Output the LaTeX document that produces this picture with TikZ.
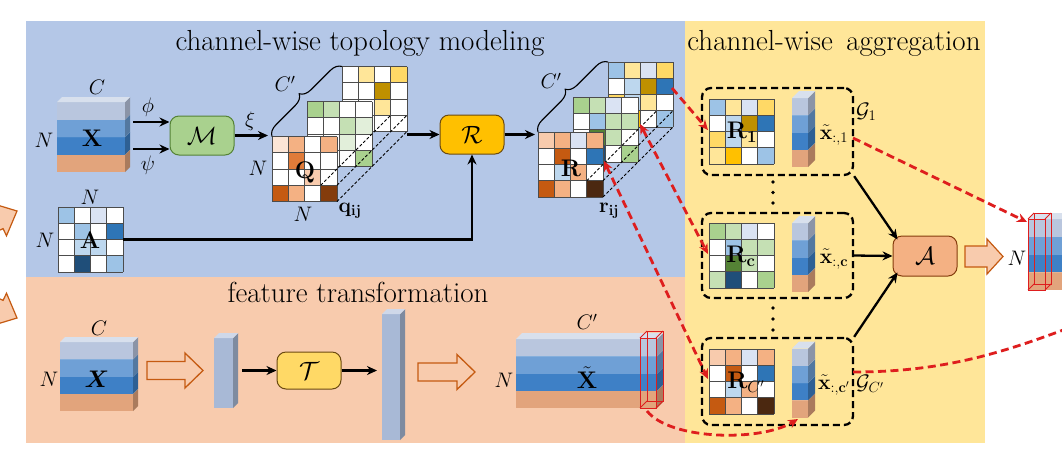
\RequirePackage{fix-cm}
\documentclass[tikz,border=0pt]{standalone}
\usepackage{amsmath,bm}
\usetikzlibrary{arrows.meta,decorations.pathreplacing,calc}
\definecolor{pBlue}{HTML}{B4C7E7}
\definecolor{pOrange}{HTML}{F8CBAD}
\definecolor{pYellow}{HTML}{FFE699}
\definecolor{W}{HTML}{FFFFFF}
\definecolor{O0}{HTML}{FBE5D6}
\definecolor{O1}{HTML}{F8CBAD}
\definecolor{O2}{HTML}{F4B183}
\definecolor{O3}{HTML}{E07B39}
\definecolor{O4}{HTML}{C55A11}
\definecolor{O5}{HTML}{843C0C}
\definecolor{O6}{HTML}{4B2810}
\definecolor{B0}{HTML}{DAE3F3}
\definecolor{B1}{HTML}{BDD7EE}
\definecolor{B2}{HTML}{9DC3E6}
\definecolor{B3}{HTML}{2E75B6}
\definecolor{B4}{HTML}{1F4E79}
\definecolor{G0}{HTML}{E2EFDA}
\definecolor{G1}{HTML}{C5E0B4}
\definecolor{G2}{HTML}{A9D18E}
\definecolor{G3}{HTML}{548235}
\definecolor{Y1}{HTML}{FFE699}
\definecolor{Y2}{HTML}{FFD966}
\definecolor{Y3}{HTML}{FFC000}
\definecolor{Y4}{HTML}{BF9000}
\definecolor{Y5}{HTML}{6B4A10}
\definecolor{Slt}{HTML}{B9C6DE}
\definecolor{Smb}{HTML}{6FA0D6}
\definecolor{Sdb}{HTML}{3E80C6}
\definecolor{Sor}{HTML}{E2A47C}
\definecolor{Sbar}{HTML}{A8B9D6}
\definecolor{redd}{RGB}{222,30,30}
\newcommand{\mgrid}[3]{%
  \foreach \cl [count=\kk from 0] in {#3} {%
    \pgfmathtruncatemacro{\rr}{div(\kk,4)}%
    \pgfmathtruncatemacro{\ccol}{mod(\kk,4)}%
    \fill[\cl] ({#1+\ccol*16.25},{#2+\rr*16.25}) rectangle ++(16.25,16.25);
  }%
  \foreach \tt in {0,1,2,3,4} {%
    \draw[gridl] ({#1+\tt*16.25},{#2}) -- ++(0,65);
    \draw[gridl] ({#1},{#2+\tt*16.25}) -- ++(65,0);
  }%
}
\newcommand{\slab}[6]{%
  \fill[#6] ({#1},{#2}) rectangle ({#1+#3},{#2+#4});
  \fill[#6!75!black] ({#1+#3},{#2}) -- ++(#5,-#5) -- ++(0,#4) -- ++(-#5,#5) -- cycle;
  \fill[#6!55!white] ({#1},{#2}) -- ++(#5,-#5) -- ++(#3,0) -- ++(-#5,#5) -- cycle;
}
\newcommand{\fstack}[5]{%
  \slab{#1}{#2+3*#5}{#3}{#5}{#4}{Sor}%
  \slab{#1}{#2+2*#5}{#3}{#5}{#4}{Sdb}%
  \slab{#1}{#2+#5}{#3}{#5}{#4}{Smb}%
  \slab{#1}{#2}{#3}{#5}{#4}{Slt}%
}
\newcommand{\wirebox}[5]{%
  \draw[wire] ({#1},{#2}) rectangle ++(#3,#4);
  \draw[wire] ({#1+#5},{#2-#5}) rectangle ++(#3,#4);
  \draw[wire] ({#1},{#2}) -- ++(#5,-#5) ({#1+#3},{#2}) -- ++(#5,-#5) ({#1+#3},{#2+#4}) -- ++(#5,-#5) ({#1},{#2+#4}) -- ++(#5,-#5);
}
\begin{document}
\begin{tikzpicture}[x=1pt,y=-1pt,
  arr/.style={line width=2.3pt,arrows={-Stealth[length=10pt,width=9pt]}},
  rarr/.style={draw=redd,line width=2.8pt,dash pattern=on 8pt off 4.5pt,arrows={-Stealth[length=10pt,width=9pt]}},
  rarrb/.style={draw=redd,line width=2.8pt,dash pattern=on 8pt off 4.5pt,arrows={Stealth[length=10pt,width=9pt]-Stealth[length=10pt,width=9pt]}},
  gridl/.style={draw=black!70,line width=0.8pt},
  opbox/.style={draw,rounded corners=9pt,line width=1pt,minimum width=64pt,minimum height=39pt,inner sep=0pt,font=\fontsize{25}{27}\selectfont},
  grp/.style={draw,line width=2.3pt,dash pattern=on 7pt off 4pt,rounded corners=9pt,minimum width=151pt,inner sep=0pt},
  lab/.style={font=\fontsize{21}{24}\selectfont,inner sep=0pt},
  big/.style={font=\fontsize{24}{26}\selectfont,inner sep=0pt},
  ttl/.style={font=\fontsize{29}{32}\selectfont,inner sep=0pt,anchor=base},
  wire/.style={draw=redd,line width=0.9pt},
  hol/.style={draw=O4,line width=1.3pt,fill=pOrange},
  blk/.style={draw=O4,line width=1.2pt,fill=O1},
  dsh/.style={draw=black,line width=0.9pt,dash pattern=on 3pt off 2pt}
]
\useasboundingbox (0,0) rectangle (1062,451);
\clip (0,0) rectangle (1062,451);
\fill[white] (0,0) rectangle (1062,451);
% partial arrows on the left
\filldraw[blk] (17,211) -- (6.5,235.8) -- (3.1,228.6) -- (-33,245.5) -- (-41.5,227.3) -- (-5.3,210.4) -- (-8.7,203.2) -- cycle;
\filldraw[blk] (17,318) -- (6.5,293.2) -- (3.1,300.4) -- (-33,283.5) -- (-41.5,301.7) -- (-5.3,318.6) -- (-8.7,325.8) -- cycle;
% panels
\fill[pBlue] (26,21) rectangle (686,277);
\fill[pOrange] (26,277) rectangle (686,443);
\fill[pYellow] (685,21) rectangle (985,443);
% titles
\node[ttl] (t1) at (360,50) {channel-wise topology modeling};
\node[ttl] (t2) at (834,50) {channel-wise\, aggregation};
\node[ttl] (t3) at (358,302) {feature transformation};
% ---------- top: X ----------
\fstack{57}{102}{68}{5}{17.5}
\node[lab] (lC1) at (97,87) {$C$};
\node[lab] (lN1) at (44,140) {$N$};
\node[big] (lX1) at (92,138) {$\mathbf{X}$};
\node[lab] (lphi) at (148,107) {$\phi$};
\node[lab] (lpsi) at (148,165) {$\psi$};
\node[opbox,fill=G2,draw=G3] (M) at (202,135.5) {$\mathcal{M}$};
\coordinate (xphi) at (133,122);
\coordinate (xpsi) at (133,149);
\draw[arr] (xphi) -- (xphi -| M.west);
\draw[arr] (xpsi) -- (xpsi -| M.west);
\node[lab] (lxi) at (250,121) {$\xi$};
\coordinate (qin) at (268,135.5);
\draw[arr] (M.east) -- (qin);
% Q stack
\mgrid{342}{66.5}{W,Y1,W,Y2, W,W,Y4,W, W,W,Y1,W, W,W,W,W}
\mgrid{307}{101.5}{G2,G1,W,W, W,W,G1,G0, W,W,G0,W, W,W,W,G2}
\mgrid{272}{136.5}{O0,O2,W,O2, W,O3,W,W, W,W,O1,W, O4,O2,W,O5}
\draw[dsh] (320.75,185.25) -- ++(70,-70);
\draw[dsh] (337,185.25) -- ++(70,-70);
\draw[dsh] (337,201.5) -- ++(70,-70);
\draw[line width=1.1pt,decorate,decoration={brace,amplitude=11pt}] (272,136.5) -- (342,66.5);
\node[lab] (lCq) at (285,84) {$C'$};
\node[lab] (lNq1) at (258,168) {$N$};
\node[lab] (lNq2) at (303,214) {$N$};
\node[big] (lQ) at (305,173) {$\mathbf{Q}$};
\node[lab] (lq) at (350,211) {$\mathbf{q_{ij}}$};
% R box
\node[opbox,fill=Y3,draw=Y5] (Rb) at (472,134.5) {$\mathcal{R}$};
\coordinate (qout) at (407,134.5);
\draw[arr] (qout) -- (Rb.west);
% R stack
\mgrid{608}{62}{B2,Y1,B0,Y2, W,B1,Y4,B3, Y2,B1,Y1,W, Y1,Y3,W,B2}
\mgrid{573}{97}{G2,G1,B0,W, W,B2,G1,G1, W,G3,G1,W, G1,B4,W,G2}
\mgrid{538}{132}{O1,O2,B0,O2, W,O4,W,B3, W,B1,O2,W, O4,O2,W,O6}
\draw[dsh] (586.75,180.75) -- ++(70,-70);
\draw[dsh] (603,180.75) -- ++(70,-70);
\draw[dsh] (603,197) -- ++(70,-70);
\draw[line width=1.1pt,decorate,decoration={brace,amplitude=11pt}] (538,132) -- (608,62);
\node[lab] (lCr) at (551,81) {$C'$};
\node[big] (lR) at (571,168) {$\mathbf{R}$};
\node[lab] (lr) at (609,211) {$\mathbf{r_{ij}}$};
\coordinate (rin) at (535,134.5);
\draw[arr] (Rb.east) -- (rin);
% A matrix
\mgrid{58}{207}{B2,W,B0,W, W,B2,W,B3, W,B1,B1,W, W,B4,W,B2}
\node[lab] (lNa1) at (90,197) {$N$};
\node[lab] (lNa2) at (45,240) {$N$};
\node[big] (lA) at (90,240) {$\mathbf{A}$};
\coordinate (amat) at (123,239.5);
\draw[arr] (amat) -| (Rb.south);
% ---------- bottom: feature transformation ----------
\fstack{60}{342}{73}{5}{17.25}
\node[lab] (lC2) at (99,328) {$C$};
\node[lab] (lN2) at (49,379) {$N$};
\node[big] (lX2) at (97,379) {$\bm{X}$};
\filldraw[hol] (147,361.5) -- (185,361.5) -- (185,353) -- (203,370.5) -- (185,388) -- (185,379.5) -- (147,379.5) -- cycle;
\slab{214}{338}{19}{70}{5}{Sbar}
\node[opbox,fill=Y2,draw=Y5,minimum height=37pt] (T) at (309,370.5) {$\mathcal{T}$};
\coordinate (b1r) at (242,370.5);
\coordinate (b2l) at (377,370.5);
\draw[arr] (b1r) -- (T.west);
\draw[arr] (T.east) -- (b2l);
\slab{382}{314}{18}{126}{5}{Sbar}
\filldraw[hol] (418,363) -- (457,363) -- (457,354.5) -- (475,372) -- (457,389.5) -- (457,381) -- (418,381) -- cycle;
\fstack{516}{339}{141}{6}{17.25}
\wirebox{640}{338}{16}{70}{7}
\node[lab] (lC3) at (587,322) {$C'$};
\node[lab] (lN3) at (504,380) {$N$};
\node[big] (lXt) at (587,378) {$\tilde{\mathbf{X}}$};
% ---------- aggregation ----------
\node[grp,minimum height=87pt] (g1) at (777.5,131.5) {};
\node[grp,minimum height=85pt] (g2) at (777.5,255.5) {};
\node[grp,minimum height=87pt] (g3) at (777.5,381.5) {};
\mgrid{709}{99}{B2,Y1,B0,Y2, W,B1,Y4,B3, Y2,B1,Y1,W, Y1,Y3,W,B2}
\mgrid{709}{223}{G2,G1,B0,W, W,B2,G1,G1, W,G3,G1,W, G1,B4,W,G2}
\mgrid{709}{349}{O1,O2,B0,O2, W,O4,W,B3, W,B1,O2,W, O4,O2,W,O6}
\node[big] (lR1) at (742,132) {$\mathbf{R_1}$};
\node[big] (lRc) at (741,256) {$\mathbf{R_c}$};
\node[big] (lRcp) at (746,382) {$\mathbf{R}_{C'}$};
\fstack{792}{98}{16}{7}{17.25}
\fstack{792}{223}{16}{7}{17.25}
\fstack{792}{348.5}{16}{7}{17.25}
\node[lab] (lx1) at (834,135) {$\tilde{\mathbf{x}}_{:,1}$};
\node[lab] (lxc) at (834,259) {$\tilde{\mathbf{x}}_{:,\mathbf{c}}$};
\node[lab] (lxcp) at (834,385) {$\tilde{\mathbf{x}}_{:,\mathbf{c}'}$};
\node[lab,anchor=west] (lG1) at (856,112) {$\mathcal{G}_1$};
\node[lab,anchor=west] (lGc) at (856,384) {$\mathcal{G}_{C'}$};
\foreach \yy in {182,192.5,203,308,319,330} \fill (773,\yy) circle (1.8);
\node[opbox,fill=O2,draw=O5,minimum height=40pt] (Ag) at (925,256) {$\mathcal{A}$};
\draw[arr] (g1.south east) -- ($(Ag.north west)+(5,4)$);
\draw[arr] (g2.east) -- (Ag.west);
\draw[arr] (g3.north east) -- ($(Ag.south west)+(5,-4)$);
\filldraw[blk] (965,246) -- (987,246) -- (987,239) -- (1003,256.5) -- (987,274) -- (987,267) -- (965,267) -- cycle;
\node[lab] (lN4) at (1017,258) {$N$};
\fstack{1028}{219}{40}{6}{17.75}
\wirebox{1028}{219}{17}{71}{6}
% ---------- red dashed arrows ----------
\coordinate (r1s) at (672,88);
\coordinate (r1d) at (708,130);
\draw[rarr] (r1s) -- (r1d);
\coordinate (rcs) at (640,124);
\coordinate (rcd) at (708,254);
\draw[rarrb] (rcs) -- (rcd);
\coordinate (rps) at (604,161);
\coordinate (rpd) at (708,379);
\draw[rarrb] (rps) -- (rpd);
\coordinate (xts) at (647,411);
\coordinate (xtd) at (798,419);
\draw[rarr] (xts) .. controls (670,440) and (760,442) .. (xtd);
\coordinate (g1o) at (853,138);
\coordinate (obar) at (1027,222);
\draw[rarr] (g1o) -- (obar);
\coordinate (g3o) at (853,372);
\coordinate (offr) at (1090,320);
\draw[rarr] (g3o) .. controls (950,372) and (1010,350) .. (offr);
\end{tikzpicture}
\end{document}
